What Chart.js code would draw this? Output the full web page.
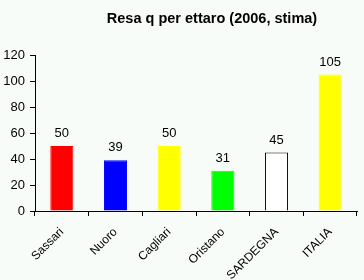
<!DOCTYPE html>
<html>
<head>
<meta charset="utf-8">
<script src="https://cdn.jsdelivr.net/npm/chart.js@4/dist/chart.umd.min.js"></script>
<style>
  html, body { margin: 0; padding: 0; background: #f8fcf8; }
  #wrap { width: 364px; height: 280px; }
</style>
</head>
<body>
<div id="wrap"><canvas id="myChart" width="364" height="280"></canvas></div>
<script>
// chart data
const labels = ['Sassari', 'Nuoro', 'Cagliari', 'Oristano', 'SARDEGNA', 'ITALIA'];
const values = [50, 39, 50, 31, 45, 105];
const barColors = ['#ff0000', '#0000ff', '#ffff00', '#00ff00', '#ffffff', '#ffff00'];
const yTicks = [0, 20, 40, 60, 80, 100, 120];
const titleText = 'Resa q per ettaro (2006, stima)';

const font = "Arial, 'Liberation Sans', sans-serif";

// title + value labels drawn by hand
const extras = {
    id: 'extras',
    beforeDraw(chart) {
        const c = chart.ctx;
        c.save();
        c.fillStyle = '#f8fcf8';
        c.fillRect(0, 0, chart.width, chart.height);
        c.restore();
    },
    afterDatasetsDraw(chart) {
        const c = chart.ctx;
        c.save();
        c.font = 'bold 14.5px ' + font;
        c.fillStyle = '#000';
        c.textAlign = 'center';
        c.textBaseline = 'middle';
        c.fillText(titleText, 212, 19);
        c.font = '13px ' + font;
        c.textBaseline = 'bottom';
        chart.getDatasetMeta(0).data.forEach((bar, i) => {
            c.fillText(String(values[i]), bar.x, bar.y - 6);
        });
        c.restore();
    }
};

new Chart(document.getElementById('myChart'), {
    type: 'bar',
    data: {
        labels: labels,
        datasets: [{
            data: values,
            backgroundColor: barColors,
            borderColor: barColors.map(c => c === '#ffffff' ? '#000000' : c),
            borderWidth: 1,
            categoryPercentage: 1,
            barPercentage: 0.43
        }]
    },
    options: {
        responsive: false,
        animation: false,
        layout: { padding: { top: 55, right: 7, left: 0, bottom: 0 } },
        plugins: {
            legend: { display: false },
            tooltip: { enabled: false },
            title: { display: false }
        },
        scales: {
            x: {
                grid: { display: true, drawOnChartArea: false, color: '#000', tickLength: 5, offset: true },
                border: { color: '#000', width: 1 },
                ticks: {
                    color: '#000', font: { family: font, size: 12 },
                    maxRotation: 45, minRotation: 45, padding: 9
                },
                afterFit(s) { s.height = 69; }
            },
            y: {
                min: 0, max: 120,
                afterBuildTicks(s) { s.ticks = yTicks.map(v => ({ value: v })); },
                grid: { display: true, drawOnChartArea: false, color: '#000', tickLength: 5 },
                border: { color: '#000', width: 1 },
                ticks: { color: '#000', font: { family: font, size: 13 }, padding: 5 },
                afterFit(s) { s.width = 35; }
            }
        }
    },
    plugins: [extras]
});
</script>
</body>
</html>
